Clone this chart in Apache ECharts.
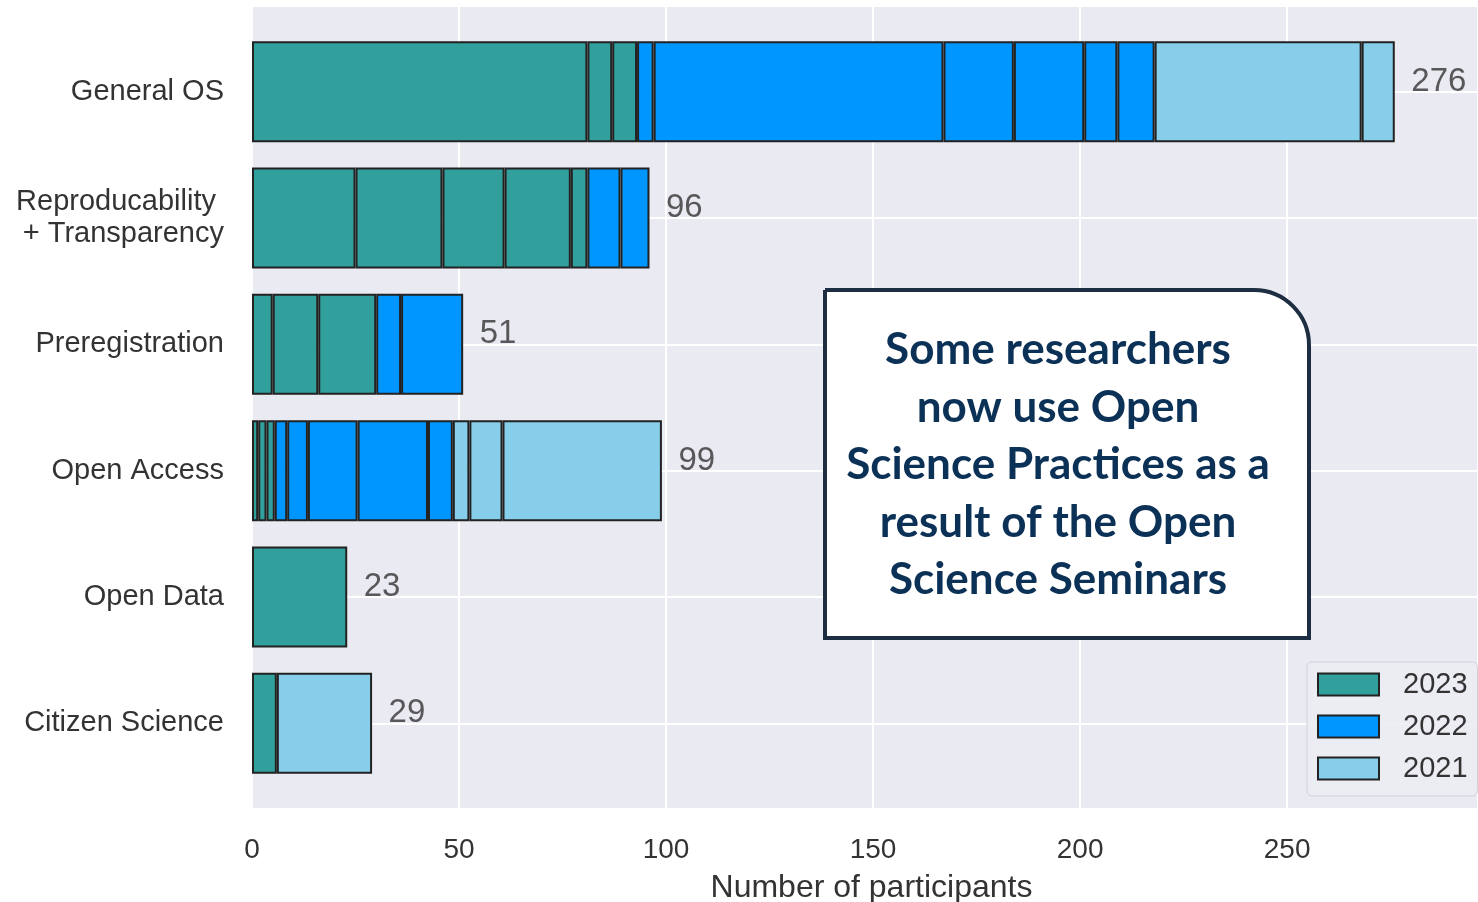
<!DOCTYPE html>
<html><head><meta charset="utf-8">
<script src="https://cdn.jsdelivr.net/npm/echarts@6/dist/echarts.min.js"></script>
<style>html,body{margin:0;padding:0;background:#fff}#c{width:1478px;height:902px}</style>
</head><body><div id="c"></div>
<script>
// ---- data ----
const categories = ['General OS', 'Reproducability \n+ Transparency', 'Preregistration', 'Open Access', 'Open Data', 'Citizen Science'];
const years = ['2023', '2022', '2021'];
// individual stacked segments per category (left to right), per year
const seg2023 = [[81, 6, 6], [25, 21, 15, 16, 4], [5, 11, 14], [1.5, 2, 2], [23], [6]];
const seg2022 = [[4, 70, 17, 17, 8, 9], [8, 7], [6, 15], [3, 5, 12, 17, 6], [], []];
const seg2021 = [[50, 8], [], [], [4, 8, 38.5], [], [23]];
const xTicks = [0, 50, 100, 150, 200, 250];
const xMax = 296.1;
const xTitle = 'Number of participants';
const noteText = 'Some researchers\nnow use Open\nScience Practices as a\nresult of the Open\nScience Seminars';

// ---- build ----
const colors = { '2023': '#319f9b', '2022': '#0096ff', '2021': '#87ceeb' };
const segs = { '2023': seg2023, '2022': seg2022, '2021': seg2021 };
const totals = categories.map((c, i) =>
  [seg2023, seg2022, seg2021].reduce((s, arr) => s + arr[i].reduce((a, b) => a + b, 0), 0));

const series = [];
years.forEach(y => {
  const s = segs[y];
  const maxLen = Math.max(...s.map(a => a.length));
  for (let k = 0; k < maxLen; k++) {
    series.push({
      name: y, type: 'bar', stack: 'total', xAxisIndex: 1, yAxisIndex: 1,
      barCategoryGap: '20%',
      itemStyle: { color: colors[y], borderColor: '#222', borderWidth: 2 },
      emphasis: { disabled: true },
      data: s.map(a => a[k] === undefined ? '-' : a[k])
    });
  }
});
series.push({
  type: 'scatter', xAxisIndex: 1, yAxisIndex: 1, symbolSize: 1, silent: true, z: 5,
  itemStyle: { color: 'rgba(0,0,0,0)' },
  data: totals.map((t, i) => [t, i]),
  label: {
    show: true, position: 'right', distance: 16, offset: [0, -10],
    formatter: p => String(Math.round(p.value[0])), fontSize: 33, color: '#333'
  }
});

const chart = echarts.init(document.getElementById('c'), null, { renderer: 'canvas' });
chart.setOption({
  animation: false,
  textStyle: { fontFamily: 'Liberation Sans, Arial, sans-serif' },
  grid: [
    { left: 252, right: 0, top: 7, bottom: 94, show: true, backgroundColor: '#eaeaf2', borderWidth: 0, outerBoundsMode: 'none', containLabel: false },
    { left: 252, right: 0, top: 28.5, bottom: 115.5, outerBoundsMode: 'none', containLabel: false }
  ],
  xAxis: [
    {
      gridIndex: 0, type: 'value', min: xTicks[0], max: xMax, interval: xTicks[1] - xTicks[0],
      axisLine: { show: false }, axisTick: { show: false },
      axisLabel: { fontSize: 28, color: '#333', margin: 28, showMaxLabel: false },
      splitLine: { show: true, lineStyle: { color: '#fff', width: 2 } },
      name: xTitle, nameLocation: 'middle', nameGap: 64,
      nameTextStyle: { fontSize: 32, color: '#333', padding: [0, 0, 0, 13] }
    },
    { gridIndex: 1, type: 'value', min: xTicks[0], max: xMax, show: false }
  ],
  yAxis: [
    { gridIndex: 0, type: 'value', axisLine: { show: false }, axisTick: { show: false }, axisLabel: { show: false }, splitLine: { show: false } },
    {
      gridIndex: 1, type: 'category', data: categories, inverse: true,
      axisLine: { show: false }, axisTick: { show: false },
      axisLabel: { fontSize: 29, color: '#333', margin: 28, lineHeight: 32, interval: 0, align: 'right', padding: [9, 0, 0, 0] },
      splitLine: { show: true, alignWithLabel: true, interval: 0, lineStyle: { color: '#fff', width: 2 } }
    }
  ],
  legend: {
    data: years, orient: 'vertical', left: 1307, top: 662, icon: 'rect',
    itemWidth: 61, itemHeight: 22, itemGap: 13, padding: [8, 10, 13, 10],
    backgroundColor: 'rgba(236,236,243,0.9)', borderColor: '#d2d2d8', borderWidth: 1, borderRadius: 5,
    textStyle: { fontSize: 29, color: '#333', padding: [0, 0, 0, 19] },
    selectedMode: false
  },
  graphic: [
    {
      type: 'rect', z: 100,
      shape: { x: 825, y: 290, width: 484, height: 348, r: [0, 55, 0, 0] },
      style: { fill: '#fff', stroke: '#1e2e42', lineWidth: 4 }
    },
    {
      type: 'text', z: 101, x: 1058, y: 465,
      style: {
        text: noteText, fontFamily: 'Lato', fontWeight: 'bold', fontSize: 44,
        fill: '#0c3157', align: 'center', verticalAlign: 'middle', lineHeight: 57.5
      }
    }
  ],
  series: series
});
</script>
</body></html>
